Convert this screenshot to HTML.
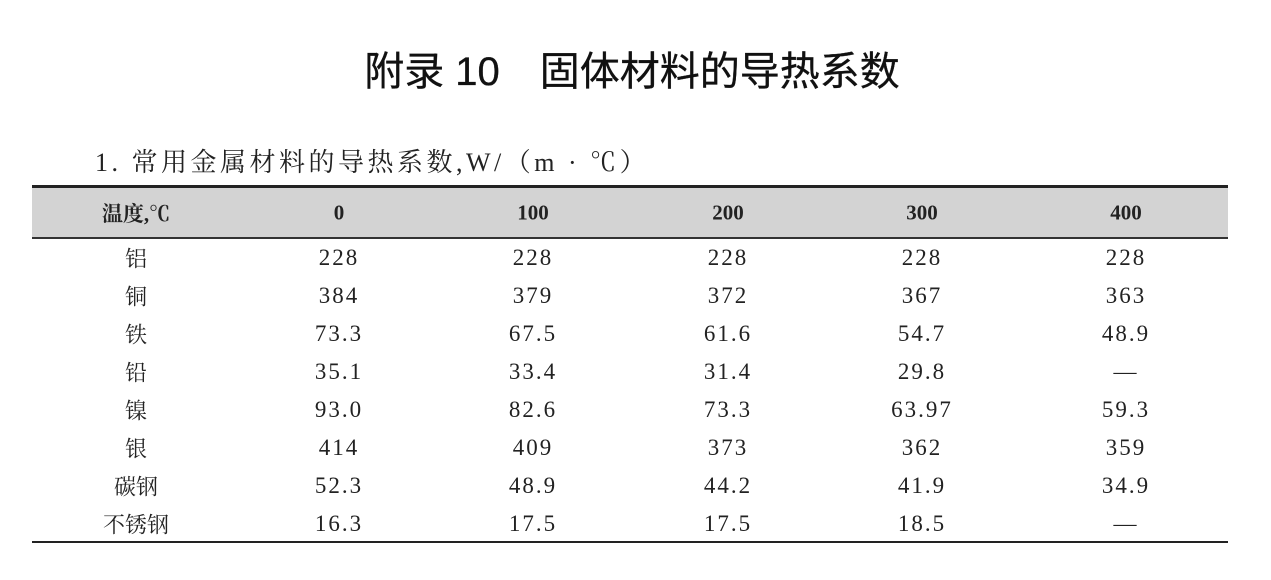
<!DOCTYPE html>
<html><head><meta charset="utf-8"><style>
body{margin:0;width:1271px;height:580px;background:#fff;position:relative;overflow:hidden;font-family:"Liberation Serif","Noto Serif CJK SC",serif;color:#222}
.a{position:absolute;white-space:nowrap;transform:translate(-50%,-50%)}
.t{position:absolute;left:632px;top:68px;transform:translate(-50%,-50%);font-family:"Liberation Sans","Noto Sans CJK SC",sans-serif;font-size:40px;font-weight:normal;white-space:nowrap;color:#111;-webkit-text-stroke:0.3px #111}
.s{position:absolute;left:95px;top:142px;font-size:26px;letter-spacing:3.5px;white-space:nowrap}
.band{position:absolute;left:32px;top:188px;width:1196px;height:50px;background:#d3d3d3}
.r1{position:absolute;left:32px;top:185px;width:1196px;height:3px;background:#222}
.r2{position:absolute;left:32px;top:237px;width:1196px;height:2px;background:#333}
.r3{position:absolute;left:32px;top:541px;width:1196px;height:2px;background:#222}
.h{font-weight:bold;font-size:21px}
.n{font-size:23px;letter-spacing:2px}
.l{font-size:22px}
</style></head><body>
<div class="t">附录 10　固体材料的导热系数</div>
<div class="s">1. 常用金属材料的导热系数,W/（m · ℃）</div>
<div class="band"></div><div class="r1"></div><div class="r2"></div><div class="r3"></div>
<div class="a h" style="left:136px;top:213px">温度,℃</div>
<div class="a h" style="left:339px;top:213px">0</div>
<div class="a h" style="left:533px;top:213px">100</div>
<div class="a h" style="left:728px;top:213px">200</div>
<div class="a h" style="left:922px;top:213px">300</div>
<div class="a h" style="left:1126px;top:213px">400</div>
<div id="rows"></div>
<script>
var d=[["铝","228","228","228","228","228"],["铜","384","379","372","367","363"],["铁","73.3","67.5","61.6","54.7","48.9"],["铅","35.1","33.4","31.4","29.8","—"],["镍","93.0","82.6","73.3","63.97","59.3"],["银","414","409","373","362","359"],["碳钢","52.3","48.9","44.2","41.9","34.9"],["不锈钢","16.3","17.5","17.5","18.5","—"]];
var xs=[136,339,533,728,922,1126],h="";
d.forEach(function(r,i){var y=258+i*38;r.forEach(function(c,j){h+='<div class="a '+(j?'n':'l')+'" style="left:'+xs[j]+'px;top:'+y+'px">'+c+'</div>';});});
document.getElementById("rows").innerHTML=h;
</script>
</body></html>
